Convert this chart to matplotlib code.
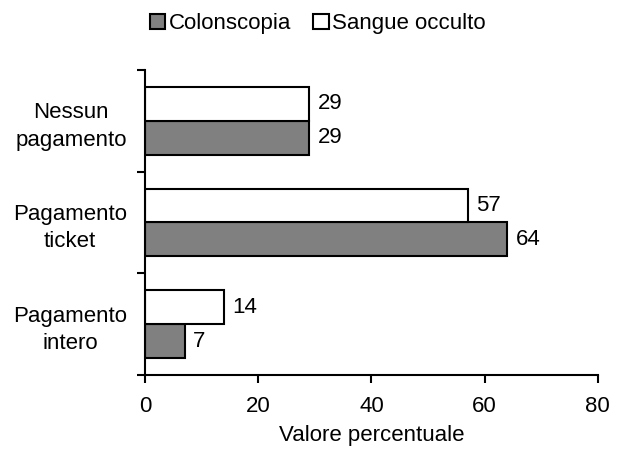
import numpy as np
import matplotlib.pyplot as plt
from matplotlib.patches import Patch

plt.rcParams['font.family'] = ['Liberation Sans', 'DejaVu Sans']
plt.rcParams['font.size'] = 16

categorie = ['Pagamento\nintero', 'Pagamento\nticket', 'Nessun\npagamento']
colonscopia = [7, 64, 29]
sangue_occulto = [14, 57, 29]

fig = plt.figure(figsize=(6.17, 4.51), dpi=100)
ax = fig.add_axes([0.235, 0.1685, 0.734, 0.6765])

y = np.arange(len(categorie))
h = 1 / 3
b1 = ax.barh(y - h / 2, colonscopia, height=h, color='#808080', edgecolor='black', linewidth=1.5)
b2 = ax.barh(y + h / 2, sangue_occulto, height=h, color='white', edgecolor='black', linewidth=1.5)
ax.bar_label(b1, padding=6)
ax.bar_label(b2, padding=6)

ax.set_xlim(0, 80)
ax.set_ylim(-0.5, 2.5)
ax.set_xticks([0, 20, 40, 60, 80])
ax.set_xlabel('Valore percentuale', labelpad=6)

ax.set_yticks(y)
ax.set_yticklabels(categorie, multialignment='center', linespacing=1.4)
ax.set_yticks([-0.5, 0.5, 1.5, 2.5], minor=True)
ax.tick_params(axis='y', which='major', length=0, pad=13)
ax.tick_params(axis='y', which='minor', length=5.5, width=1.5)
ax.tick_params(axis='x', length=6, width=1.5, pad=9)

for s in ['top', 'right']:
    ax.spines[s].set_visible(False)
for s in ['left', 'bottom']:
    ax.spines[s].set_linewidth(1.5)

handles = [Patch(facecolor='#808080', edgecolor='black', linewidth=1.5),
           Patch(facecolor='white', edgecolor='black', linewidth=1.5)]
fig.legend(handles, ['Colonscopia', 'Sangue occulto'], loc='center', bbox_to_anchor=(0.515, 0.947),
           ncol=2, frameon=False, handlelength=0.7, handleheight=0.7, handletextpad=0.15,
           columnspacing=1.0)

fig.savefig('out.png', dpi=100)
